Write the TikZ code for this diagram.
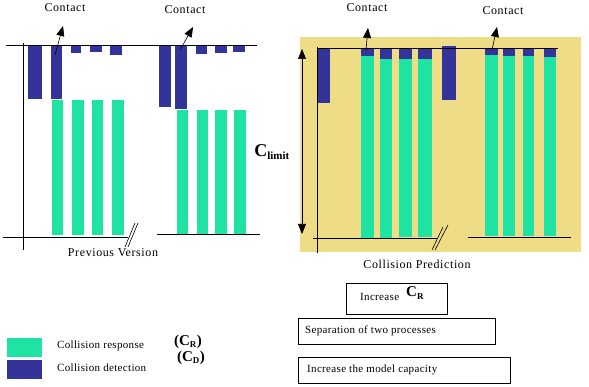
\documentclass[tikz,border=0pt]{standalone}
\usepackage{fontspec}
\setmainfont{Liberation Serif}
\usetikzlibrary{arrows.meta}
\definecolor{blu}{HTML}{333399}
\definecolor{grn}{HTML}{1EE3A3}
\definecolor{ylw}{HTML}{EFDC86}
\begin{document}
\begin{tikzpicture}[x=1pt,y=-1pt,
  lbl/.style={font=\fontsize{12}{14}\selectfont\addfontfeature{LetterSpace=5}, inner sep=0pt},
  sm/.style={font=\fontsize{11}{13}\selectfont\addfontfeature{LetterSpace=3}, inner sep=0pt},
  arr/.style={-{Triangle[length=10pt,width=8pt]}, line width=0.6pt},
  dbl/.style={{Triangle[length=10pt,width=8pt]}-{Triangle[length=10pt,width=8pt]}, line width=0.6pt},
  ln/.style={line width=0.7pt},
  boxn/.style={draw, line width=0.6pt, inner sep=0pt, anchor=north west}]
\useasboundingbox (0,0) rectangle (589,387);
% ---------- left panel ----------
\fill[blu] (28,45) rectangle (42,99);
\fill[blu] (51,45) rectangle (62,99);
\fill[blu] (71,45) rectangle (81,53);
\fill[blu] (90,45) rectangle (102,52);
\fill[blu] (110,45) rectangle (122,55);
\fill[grn] (52,100) rectangle (63,235);
\fill[grn] (72,100) rectangle (84,235);
\fill[grn] (92,100) rectangle (103,235);
\fill[grn] (112,100) rectangle (124,235);
\fill[blu] (159,45) rectangle (171,107);
\fill[blu] (175,45) rectangle (187,109);
\fill[blu] (196,45) rectangle (207,54);
\fill[blu] (215,45) rectangle (227,53);
\fill[blu] (233,45) rectangle (245,52);
\fill[grn] (177,110) rectangle (188,235);
\fill[grn] (197,110) rectangle (208,235);
\fill[grn] (215,110) rectangle (227,235);
\fill[grn] (234,110) rectangle (246,235);
\draw[ln] (6,45) -- (257,45);
\draw[ln] (23,43) -- (23,250);
\draw[ln] (3,237) -- (128,237);
\draw[ln] (157,234) -- (260,234);
\draw[line width=0.6pt] (125,247) -- (135,223);
\draw[line width=0.6pt] (128,247) -- (138,223);
\node[lbl] (c1) at (65,8) {Contact};
\node[lbl] (c2) at (185,10) {Contact};
\coordinate (a1s) at (55,55); \coordinate (a1e) at (63,26);
\coordinate (a2s) at (180,50); \coordinate (a2e) at (193,27);
\draw[arr] (a1s) -- (a1e);
\draw[arr] (a2s) -- (a2e);
\node[lbl] (pv) at (113,253) {Previous Version};
\node[inner sep=0pt, font=\bfseries\fontsize{18}{20}\selectfont] (cl) at (272,152) {C\textsubscript{\fontsize{11}{12}\selectfont limit}};
% ---------- right panel ----------
\fill[ylw] (300,37) rectangle (581,252);
\fill[blu] (318,48) rectangle (330,103);
\fill[blu] (361,48) rectangle (374,56); \fill[grn] (361,56) rectangle (374,238);
\fill[blu] (380,48) rectangle (392,59); \fill[grn] (380,59) rectangle (392,238);
\fill[blu] (399,48) rectangle (412,59); \fill[grn] (399,59) rectangle (412,237);
\fill[blu] (418,48) rectangle (432,59); \fill[grn] (418,59) rectangle (432,237);
\fill[blu] (442,46) rectangle (456,100);
\fill[blu] (485,48) rectangle (498,55); \fill[grn] (485,55) rectangle (498,236);
\fill[blu] (503,48) rectangle (515,56); \fill[grn] (503,56) rectangle (515,236);
\fill[blu] (523,48) rectangle (534,56); \fill[grn] (523,56) rectangle (534,236);
\fill[blu] (544,48) rectangle (556,57); \fill[grn] (544,57) rectangle (556,236);
\draw[ln] (317,48) -- (558,48);
\draw[ln] (317,47) -- (317,253);
\draw[ln] (313,238) -- (437,238);
\draw[ln] (468,237) -- (571,237);
\draw[line width=0.6pt] (432,250) -- (443,227);
\draw[line width=0.6pt] (435,250) -- (448,225);
\coordinate (d1) at (302,49); \coordinate (d2) at (302,234);
\draw[dbl] (d1) -- (d2);
\node[lbl] (c3) at (367,8) {Contact};
\node[lbl] (c4) at (503,11) {Contact};
\coordinate (a3s) at (366,50); \coordinate (a3e) at (368,28);
\coordinate (a4s) at (492,50); \coordinate (a4e) at (497,27);
\draw[arr] (a3s) -- (a3e);
\draw[arr] (a4s) -- (a4e);
\node[lbl] (cp) at (417,264) {Collision Prediction};
% ---------- bottom ----------
\node[boxn, minimum width=101pt, minimum height=31pt] (b1) at (346,283) {};
\node[sm, anchor=west] (b1t) at (360,297) {Increase};
\node[inner sep=0pt, anchor=west, font=\bfseries\fontsize{15}{16}\selectfont] (b1c) at (406,293) {C\textsubscript{\fontsize{9}{10}\selectfont R}};
\node[boxn, minimum width=197pt, minimum height=26pt] (b2) at (298,318) {};
\node[sm, anchor=west] (b2t) at (305,331) {Separation of two processes};
\node[boxn, minimum width=212pt, minimum height=26pt] (b3) at (298,357) {};
\node[sm, anchor=west] (b3t) at (307,370) {Increase the model capacity};
\fill[grn] (7,338) rectangle (42,357);
\fill[blu] (7,360) rectangle (42,379);
\node[sm, anchor=west] (lg1) at (57,346) {Collision response};
\node[sm, anchor=west] (lg2) at (57,368) {Collision detection};
\node[inner sep=0pt, font=\bfseries\fontsize{15}{16}\selectfont] (cr) at (188,342) {(C\textsubscript{\fontsize{9}{10}\selectfont R})};
\node[inner sep=0pt, font=\bfseries\fontsize{15}{16}\selectfont] (cd) at (191,358) {(C\textsubscript{\fontsize{9}{10}\selectfont D})};
\end{tikzpicture}
\end{document}
